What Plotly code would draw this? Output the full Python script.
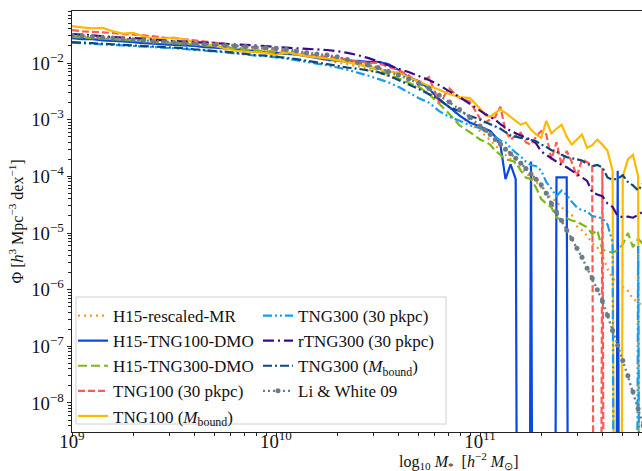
import plotly.graph_objects as go

# log10 stellar mass bin centres
logm = [9.00, 9.05, 9.10, 9.15, 9.20, 9.25, 9.30, 9.35, 9.40, 9.45,
        9.50, 9.55, 9.60, 9.65, 9.70, 9.75, 9.80, 9.85, 9.90, 9.95,
        10.00, 10.05, 10.10, 10.15, 10.20, 10.25, 10.30, 10.35, 10.40, 10.45,
        10.50, 10.55, 10.60, 10.65, 10.70, 10.75, 10.80, 10.85, 10.90, 10.95,
        11.000, 11.025, 11.050, 11.075, 11.100, 11.125, 11.150, 11.175, 11.200, 11.225,
        11.250, 11.275, 11.300, 11.325, 11.350, 11.375, 11.400, 11.425, 11.450, 11.475,
        11.500, 11.525, 11.550, 11.575, 11.600, 11.625, 11.650, 11.675, 11.700, 11.725,
        11.750, 11.775, 11.800]

# log10 Phi values (None = empty bin)
h15_rescaled_mr = [-1.52, -1.53, -1.54, -1.56, -1.57, -1.58, -1.60, -1.61, -1.62, -1.64,
    -1.65, -1.66, -1.67, -1.69, -1.70, -1.71, -1.73, -1.74, -1.76, -1.78,
    -1.80, -1.82, -1.85, -1.88, -1.91, -1.95, -1.99, -2.02, -2.06, -2.11,
    -2.17, -2.23, -2.29, -2.36, -2.44, -2.53, -2.65, -2.78, -2.93, -3.07,
    -3.20, -3.28, -3.36, -3.45, -3.55, -3.62, -3.70, -3.78, -3.86, -3.94,
    -4.02, -4.10, -4.20, -4.30, -4.38, -4.45, -4.55, -4.62, -4.68, -4.88,
    -4.95, -5.05, -5.18, -5.25, -5.40, -5.63, -5.80, -5.90, -5.95, -6.02,
    -6.16, -6.22, -6.30]

h15_tng100_dmo = [-1.56, -1.58, -1.58, -1.60, -1.61, -1.62, -1.63, -1.65, -1.66, -1.67,
    -1.68, -1.69, -1.70, -1.72, -1.73, -1.74, -1.76, -1.77, -1.79, -1.81,
    -1.82, -1.84, -1.85, -1.88, -1.91, -1.94, -1.96, -1.97, -1.96, -1.98,
    -1.98, -2.02, -2.12, -2.25, -2.32, -2.45, -2.65, -2.78, -2.93, -3.05,
    -3.12, -3.16, -3.20, -3.30, -3.44, -4.05, -3.79, -4.05, None, None,
    -3.74, None, None, None, None, -4.02, -4.02, -4.02, None, None,
    None, None, None, None, None, None, None, -3.90, None, None,
    None, None, None]

h15_tng300_dmo = [-1.54, -1.55, -1.56, -1.57, -1.58, -1.59, -1.60, -1.61, -1.63, -1.64,
    -1.65, -1.66, -1.67, -1.69, -1.70, -1.72, -1.74, -1.76, -1.78, -1.79,
    -1.81, -1.83, -1.85, -1.87, -1.89, -1.92, -1.95, -1.98, -2.02, -2.07,
    -2.12, -2.20, -2.27, -2.35, -2.42, -2.55, -2.72, -2.90, -3.10, -3.22,
    -3.35, -3.39, -3.44, -3.55, -3.62, -3.70, -3.72, -3.75, -3.90, -4.02,
    -4.05, -4.20, -4.40, -4.48, -4.55, -4.72, -4.78, -4.74, -4.78, -4.80,
    -4.85, -4.90, -5.02, -4.95, -5.30, -5.32, -5.35, -5.30, -5.20, -5.00,
    -5.25, -5.10, -5.20]

tng100_30pkpc = [-1.42, -1.44, -1.45, -1.46, -1.47, -1.49, -1.50, -1.51, -1.53, -1.55,
    -1.56, -1.58, -1.60, -1.62, -1.64, -1.66, -1.69, -1.71, -1.73, -1.75,
    -1.77, -1.79, -1.82, -1.84, -1.87, -1.89, -1.91, -1.94, -1.97, -2.00,
    -2.00, -2.07, -2.12, -2.22, -2.35, -2.25, -2.70, -2.45, -2.62, -2.68,
    -2.98, -3.05, -3.00, -2.95, -2.77, -3.20, -3.35, -3.28, -3.23, -3.40,
    -3.44, -3.30, -3.20, -3.26, -3.70, -3.40, -3.80, -3.55, -3.75, -4.00,
    -3.70, -3.75, -3.80, None, -3.85, None, None, None, None, None,
    None, None, None]

tng100_mbound = [-1.35, -1.37, -1.39, -1.38, -1.44, -1.48, -1.47, -1.53, -1.57, -1.57,
    -1.55, -1.58, -1.64, -1.66, -1.70, -1.74, -1.78, -1.80, -1.81, -1.82,
    -1.86, -1.81, -1.84, -1.88, -1.90, -1.92, -1.95, -1.98, -2.02, -2.06,
    -2.10, -2.15, -2.17, -2.25, -2.33, -2.40, -2.47, -2.55, -2.60, -2.62,
    -2.80, -2.92, -2.95, -2.88, -2.82, -2.88, -2.95, -3.02, -3.09, -3.05,
    -3.18, -3.26, -3.32, -3.02, -3.24, -3.16, -3.09, -3.30, -3.44, -3.35,
    -3.26, -3.50, -3.45, -3.35, -3.44, -3.55, -3.90, None, -4.00, -3.70,
    -3.62, -4.00, None]

tng300_30pkpc = [-1.64, -1.65, -1.66, -1.67, -1.68, -1.69, -1.70, -1.71, -1.72, -1.73,
    -1.74, -1.75, -1.77, -1.78, -1.80, -1.81, -1.83, -1.85, -1.87, -1.88,
    -1.90, -1.92, -1.95, -1.98, -2.01, -2.04, -2.08, -2.12, -2.17, -2.22,
    -2.28, -2.34, -2.42, -2.52, -2.62, -2.70, -2.85, -2.95, -3.02, -3.10,
    -3.15, -3.20, -3.24, -3.30, -3.37, -3.40, -3.50, -3.58, -3.65, -3.74,
    -3.80, -3.82, -3.90, -4.10, -4.22, -4.35, -4.25, -4.33, -4.45, -4.55,
    -4.60, -4.62, -4.70, -4.72, -4.74, -4.85, -5.16, None, None, None,
    None, -5.23, None]

rtng300_30pkpc = [-1.49, -1.50, -1.51, -1.53, -1.54, -1.55, -1.56, -1.57, -1.59, -1.60,
    -1.61, -1.62, -1.63, -1.64, -1.65, -1.66, -1.67, -1.68, -1.69, -1.70,
    -1.72, -1.73, -1.74, -1.75, -1.76, -1.77, -1.79, -1.82, -1.86, -1.91,
    -1.97, -2.04, -2.10, -2.16, -2.23, -2.30, -2.39, -2.50, -2.60, -2.72,
    -2.84, -2.90, -2.95, -3.00, -3.08, -3.14, -3.20, -3.24, -3.28, -3.32,
    -3.35, -3.42, -3.56, -3.62, -3.68, -3.74, -3.80, -3.84, -3.90, -3.96,
    -4.02, -4.08, -4.28, -4.32, -4.35, -4.48, -4.54, -4.70, -4.72, -4.71,
    -4.73, -4.68, -4.62]

tng300_mbound = [-1.63, -1.64, -1.65, -1.66, -1.67, -1.68, -1.69, -1.70, -1.71, -1.72,
    -1.73, -1.74, -1.76, -1.77, -1.79, -1.80, -1.82, -1.84, -1.86, -1.87,
    -1.89, -1.91, -1.93, -1.96, -1.99, -2.02, -2.05, -2.08, -2.10, -2.13,
    -2.16, -2.22, -2.30, -2.38, -2.46, -2.55, -2.64, -2.78, -2.85, -2.93,
    -3.00, -3.04, -3.08, -3.12, -3.16, -3.22, -3.28, -3.30, -3.32, -3.34,
    -3.36, -3.38, -3.44, -3.48, -3.54, -3.56, -3.62, -3.66, -3.68, -3.70,
    -3.72, -3.78, -3.82, -3.80, -3.84, -4.02, -4.06, -4.04, -3.98, -4.10,
    -4.16, -4.25, -4.12]

li_white_09 = [-1.51, -1.52, -1.53, -1.55, -1.56, -1.57, -1.59, -1.60, -1.62, -1.63,
    -1.64, -1.65, -1.66, -1.67, -1.68, -1.69, -1.70, -1.71, -1.72, -1.73,
    -1.74, -1.76, -1.79, -1.82, -1.84, -1.86, -1.89, -1.94, -1.99, -2.03,
    -2.08, -2.15, -2.21, -2.28, -2.36, -2.45, -2.57, -2.69, -2.82, -2.96,
    -3.11, -3.18, -3.26, -3.35, -3.43, -3.52, -3.60, -3.68, -3.77, -3.86,
    -3.96, -4.05, -4.15, -4.30, -4.48, -4.63, -4.78, -4.95, -5.10, -5.27,
    -5.43, -5.62, -5.80, -6.00, -6.20, -6.45, -6.72, -6.98, -7.25, -7.52,
    -7.80, -8.10, -8.40]

FLOOR = 1e-30  # empty bins clipped far below the axis, as on a log plot


def to_phi(vals):
    return [FLOOR if v is None else 10 ** v for v in vals]


mass = [10 ** v for v in logm]

FONT = "Liberation Serif"

styles = [
    ("H15-rescaled-MR", h15_rescaled_mr, "#FF9420", "2px,4px", "legend"),
    ("H15-TNG100-DMO", h15_tng100_dmo, "#0A48E0", "solid", "legend"),
    ("H15-TNG300-DMO", h15_tng300_dmo, "#7DBA16", "9px,4px", "legend"),
    ("TNG100 (30 pkpc)", tng100_30pkpc, "#FF5A55", "7px,3px", "legend"),
    ("TNG100 (<i>M</i><sub>bound</sub>)", tng100_mbound, "#FFBA00", "solid", "legend"),
    ("TNG300 (30 pkpc)", tng300_30pkpc, "#1A9CEB", "9px,3px,2px,3px,2px,3px", "legend2"),
    ("rTNG300 (30 pkpc)", rtng300_30pkpc, "#3C0A8A", "11px,4px,2px,4px", "legend2"),
    ("TNG300 (<i>M</i><sub>bound</sub>)", tng300_mbound, "#0B4A78", "9px,3px,2px,3px", "legend2"),
]

fig = go.Figure()
for name, vals, color, dash, leg in styles:
    fig.add_trace(go.Scatter(
        x=mass, y=to_phi(vals), mode="lines", name=name,
        line=dict(color=color, width=2.2, dash=dash, simplify=False),
        legend=leg,
    ))

fig.add_trace(go.Scatter(
    x=mass, y=to_phi(li_white_09), mode="lines+markers", name="Li &amp; White 09",
    line=dict(color="#6B7C88", width=2.4, dash="2px,3px"),
    marker=dict(color="#6B7C88", size=5),
    legend="legend2",
))

PL, PR, PT, PB = 72, 642, 11, 432
W, H = 642, 471
pw, ph = PR - PL, PB - PT


def px(xp):
    return (xp - PL) / pw


def py(yp):
    return (PB - yp) / ph


axis_common = dict(
    type="log", showgrid=False, zeroline=False, showline=True,
    linecolor="#222222", linewidth=1.2, ticks="outside", ticklen=4,
    tickwidth=1.2, tickcolor="#222222", dtick=1, exponentformat="power",
    tickfont=dict(family=FONT, size=15, color="#111111"),
    minor=dict(ticks="outside", ticklen=2.5, tickwidth=0.8, tickcolor="#222222", showgrid=False),
)

fig.update_xaxes(range=[9, 9 + (PR - PL) / 204.0], mirror=True, ticklabelstandoff=-11, **axis_common)
fig.update_yaxes(range=[-8.512, -1.082], **axis_common)

fig.update_layout(
    width=W, height=H,
    margin=dict(l=PL, r=W - PR, t=PT, b=H - PB, pad=0),
    plot_bgcolor="white", paper_bgcolor="white",
    font=dict(family=FONT, color="#111111"),
    legend=dict(x=px(73), y=py(298), xanchor="left", yanchor="top",
                bgcolor="rgba(0,0,0,0)", borderwidth=0,
                font=dict(family=FONT, size=17, color="#111111"),
                itemwidth=30, tracegroupgap=0),
    legend2=dict(x=px(258), y=py(298), xanchor="left", yanchor="top",
                 bgcolor="rgba(0,0,0,0)", borderwidth=0,
                 font=dict(family=FONT, size=17, color="#111111"),
                 itemwidth=30, tracegroupgap=0),
    shapes=[dict(type="rect", xref="paper", yref="paper",
                 x0=px(76), x1=px(446), y0=py(424), y1=py(297),
                 fillcolor="rgba(255,255,255,0.85)",
                 line=dict(color="#D0D0D0", width=1), layer="above")],
    annotations=[
        dict(text="log<sub>10</sub> <i>M</i><sub>*</sub>  [<i>h</i><sup>\u22122</sup> <i>M</i><sub>\u2299</sub>]",
             xref="paper", yref="paper", x=px(458), y=py(461),
             xanchor="center", yanchor="middle", showarrow=False,
             font=dict(family=FONT, size=16, color="#111111")),
        dict(text="\u03a6 [<i>h</i><sup>3</sup> Mpc<sup>\u22123</sup> dex<sup>\u22121</sup>]",
             xref="paper", yref="paper", x=px(17), y=0.5, textangle=-90,
             xanchor="center", yanchor="middle", showarrow=False,
             font=dict(family=FONT, size=16, color="#111111")),
    ],
)

fig.write_html("out.html")
